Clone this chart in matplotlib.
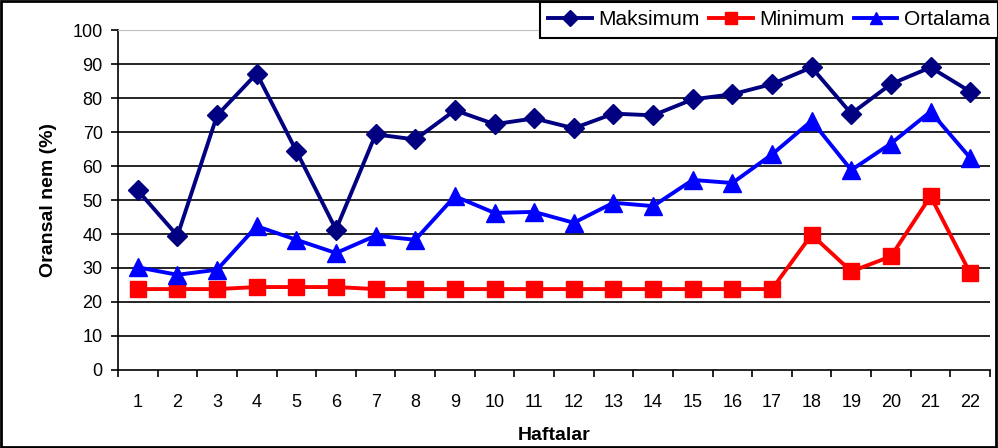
import numpy as np
import matplotlib
matplotlib.use('Agg')
import matplotlib.pyplot as plt
from matplotlib.patches import Rectangle

plt.rcParams['font.family'] = ['Liberation Sans', 'DejaVu Sans']

# data
weeks = list(range(1, 23))
maksimum = [52.8, 39.5, 74.9, 87.2, 64.4, 41.3, 69.3, 67.8, 76.4, 72.3, 74.0,
            71.1, 75.4, 74.9, 79.6, 81.1, 84.1, 89.0, 75.4, 84.1, 89.0, 81.9]
minimum = [23.8, 23.8, 23.8, 24.4, 24.4, 24.4, 23.8, 23.8, 23.8, 23.8, 23.8,
           23.8, 23.8, 23.8, 23.8, 23.8, 23.8, 39.8, 29.0, 33.4, 51.1, 28.5]
ortalama = [30.2, 28.0, 29.5, 42.3, 38.3, 34.4, 39.5, 38.3, 51.1, 46.2, 46.5,
            43.3, 49.2, 48.2, 55.9, 55.0, 63.4, 73.3, 58.8, 66.6, 76.0, 62.4]
series_names = ['Maksimum', 'Minimum', 'Ortalama']

fig = plt.figure(figsize=(9.98, 4.48), dpi=100)
ax = fig.add_axes([118/998, 1-370/448, (990-118)/998, 340/448])

#gridlines
for v in range(10, 100, 10):
    ax.axhline(v, color='black', lw=1.2, zorder=1)

ax.plot(weeks, maksimum, color='#000080', lw=2.8, marker='D', ms=10, label=series_names[0], zorder=3)
ax.plot(weeks, minimum, color='#FF0000', lw=2.8, marker='s', ms=11.5, label=series_names[1], zorder=3)
ax.plot(weeks, ortalama, color='#0000FF', lw=2.8, marker='^', ms=12.5, label=series_names[2], zorder=3)

ax.set_xlim(0.5, 22.5)
ax.set_ylim(0, 100)

#x ticks between categories, labels under categories
ax.set_xticks(np.arange(0.5, 23, 1))
ax.set_xticklabels([])
ax.set_xticks(weeks, minor=True)
ax.set_xticklabels([str(w) for w in weeks], minor=True, fontsize=13)
ax.tick_params(axis='x', which='minor', length=0, pad=17)
ax.tick_params(axis='x', which='major', length=5, width=1.2, direction='out')
ax.set_yticks(range(0, 101, 10))
ax.tick_params(axis='y', length=5, width=1.2, direction='out', labelsize=13, pad=6)

ax.spines['right'].set_visible(False)
ax.spines['top'].set_color('#c0c0c0')
ax.spines['left'].set_linewidth(1.2)
ax.spines['bottom'].set_linewidth(1.2)

ax.set_xlabel('Haftalar', fontsize=14, fontweight='bold', labelpad=12)
ax.set_ylabel('Oransal nem (%)', fontsize=14, fontweight='bold', labelpad=11)

leg = fig.legend(loc='upper right', bbox_to_anchor=(1.0, 1 - 2/448), ncol=3, fontsize=15,
                 frameon=True, fancybox=False, edgecolor='black', framealpha=1,
                 handlelength=2.1, columnspacing=0.45, handletextpad=0.3,
                 borderpad=0.4, borderaxespad=0)
leg.get_frame().set_linewidth(1.5)
for h in leg.legend_handles:
    h.set_markersize(8)

#outer border of the chart
fig.patches.append(Rectangle((0.001, 0.002), 0.997, 0.996, transform=fig.transFigure,
                             fill=False, edgecolor='black', lw=2))

plt.savefig('out.png', dpi=100)
